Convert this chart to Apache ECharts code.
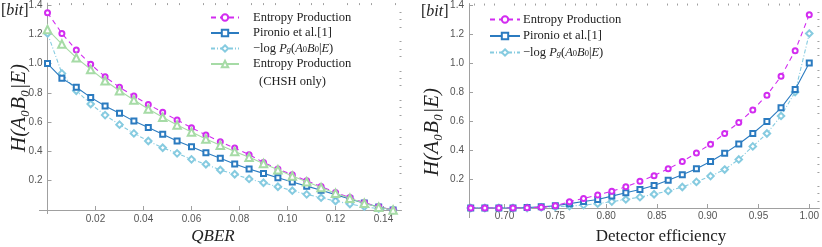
<!DOCTYPE html>
<html><head><meta charset="utf-8">
<script src="https://cdn.jsdelivr.net/npm/echarts@6/dist/echarts.min.js"></script>
<style>html,body{margin:0;padding:0;background:#fff}#c{width:822px;height:247px}</style>
</head><body><div id="c"></div>
<script>
// ---- data: left panel (QBER) ----
const qber = [0, 0.006, 0.012, 0.018, 0.024, 0.030, 0.036, 0.042, 0.048, 0.054, 0.060, 0.066, 0.072, 0.078, 0.084, 0.090, 0.096, 0.102, 0.108, 0.114, 0.120, 0.126, 0.132, 0.138, 0.144];
const entropyQ = [1.347, 1.206, 1.092, 0.995, 0.910, 0.838, 0.778, 0.721, 0.667, 0.614, 0.562, 0.513, 0.466, 0.423, 0.378, 0.325, 0.280, 0.240, 0.200, 0.160, 0.120, 0.085, 0.050, 0.022, 0];
const pironioQ = [1.000, 0.899, 0.838, 0.769, 0.710, 0.660, 0.607, 0.564, 0.517, 0.471, 0.432, 0.391, 0.353, 0.314, 0.280, 0.250, 0.220, 0.191, 0.163, 0.135, 0.105, 0.075, 0.047, 0.021, 0];
const pgQ = [1.206, 0.933, 0.814, 0.724, 0.648, 0.583, 0.523, 0.471, 0.425, 0.387, 0.346, 0.312, 0.273, 0.244, 0.212, 0.186, 0.159, 0.132, 0.107, 0.084, 0.061, 0.041, 0.023, 0.009, 0];
const chshQ = [1.233, 1.133, 1.040, 0.960, 0.883, 0.814, 0.751, 0.690, 0.633, 0.580, 0.533, 0.485, 0.443, 0.400, 0.360, 0.318, 0.275, 0.232, 0.193, 0.153, 0.115, 0.080, 0.046, 0.019, 0];
// ---- data: right panel (detector efficiency) ----
const eff = [0.6667, 0.6806, 0.6944, 0.7083, 0.7222, 0.7361, 0.7500, 0.7639, 0.7778, 0.7917, 0.8056, 0.8194, 0.8333, 0.8472, 0.8611, 0.8750, 0.8889, 0.9028, 0.9167, 0.9306, 0.9444, 0.9583, 0.9722, 0.9861, 1.0000];
const entropyE = [0, 0, 0, 0, 0.002, 0.005, 0.015, 0.043, 0.066, 0.089, 0.116, 0.146, 0.184, 0.223, 0.270, 0.320, 0.380, 0.440, 0.514, 0.589, 0.676, 0.778, 0.908, 1.085, 1.333];
const pironioE = [0, 0, 0, 0, 0.003, 0.008, 0.015, 0.030, 0.045, 0.059, 0.082, 0.105, 0.128, 0.155, 0.191, 0.230, 0.271, 0.321, 0.377, 0.441, 0.514, 0.596, 0.691, 0.817, 1.000];
const pgE = [0, 0, 0, 0, 0, 0.004, 0.008, 0.013, 0.020, 0.030, 0.044, 0.059, 0.075, 0.095, 0.118, 0.145, 0.180, 0.220, 0.265, 0.335, 0.425, 0.514, 0.635, 0.800, 1.203];
// ---- tick labels ----
const qberLabels = [0.02, 0.04, 0.06, 0.08, 0.10, 0.12, 0.14];
const qberMinor = [0.005, 0.010, 0.015, 0.025, 0.030, 0.035, 0.045, 0.050, 0.055, 0.065, 0.070, 0.075, 0.085, 0.090, 0.095, 0.105, 0.110, 0.115, 0.125, 0.130, 0.135, 0.145];
const effLabels = [0.70, 0.75, 0.80, 0.85, 0.90, 0.95, 1.00];
const effMinor = [0.67, 0.68, 0.69, 0.71, 0.72, 0.73, 0.74, 0.76, 0.77, 0.78, 0.79, 0.81, 0.82, 0.83, 0.84, 0.86, 0.87, 0.88, 0.89, 0.91, 0.92, 0.93, 0.94, 0.96, 0.97, 0.98, 0.99];
const hLabels = [0.2, 0.4, 0.6, 0.8, 1.0, 1.2, 1.4];
const hMinor = [0.05, 0.10, 0.15, 0.25, 0.30, 0.35, 0.45, 0.50, 0.55, 0.65, 0.70, 0.75, 0.85, 0.90, 0.95, 1.05, 1.10, 1.15, 1.25, 1.30, 1.35];

const NAME_EP = 'Entropy Production', NAME_PI = 'Pironio et al.[1]', NAME_PG = 'pg', NAME_CH = 'Entropy Production (CHSH only)';
const C_EP = '#d22cf0', C_PI = '#2b7bc0', C_PG = '#86cbe0', C_CH = '#a6dba6';
const SERIF = '"Liberation Serif","DejaVu Serif",serif';
const SANS = '"Liberation Sans","DejaVu Sans",sans-serif';
const AX = '#a0a0a0';

const pair = (xs, ys) => xs.map((x, i) => [x, ys[i]]);

function xAxes(gridIndex, min, max, labels, minor, margin) {
  const base = {type: 'value', gridIndex, min, max, splitLine: {show: false},
    axisLine: {onZero: false, lineStyle: {color: AX, width: 1}}};
  return [
    Object.assign({}, base, {
      axisTick: {inside: true, length: 4, customValues: labels, lineStyle: {color: AX}},
      axisLabel: {customValues: labels, color: '#555', fontFamily: SANS, fontSize: 10, margin,
        formatter: v => v.toFixed(2)}
    }),
    Object.assign({}, base, {
      axisLine: {show: false, onZero: false},
      axisTick: {inside: true, length: 2, customValues: minor, lineStyle: {color: AX}},
      axisLabel: {show: false}
    })
  ];
}
function yAxes(gridIndex, min, max) {
  const base = {type: 'value', gridIndex, min, max, splitLine: {show: false},
    axisLine: {onZero: false, lineStyle: {color: AX, width: 1}}};
  return [
    Object.assign({}, base, {
      axisTick: {inside: true, length: 4, customValues: hLabels, lineStyle: {color: AX}},
      axisLabel: {customValues: hLabels, color: '#555', fontFamily: SANS, fontSize: 10, margin: 5,
        formatter: v => v.toFixed(1)}
    }),
    Object.assign({}, base, {
      axisLine: {show: false, onZero: false},
      axisTick: {inside: true, length: 2, customValues: hMinor, lineStyle: {color: AX}},
      axisLabel: {show: false}
    })
  ];
}

function ser(name, color, symbol, size, dash, data, xi, yi, z) {
  return {type: 'line', name, data, xAxisIndex: xi, yAxisIndex: yi, z,
    symbol, symbolSize: size, showAllSymbol: true,
    lineStyle: {color, width: 1.1, type: dash},
    itemStyle: {color, borderColor: color, borderWidth: 1.3},
    emphasis: {disabled: true}, animation: false};
}

const FS = 12.5, LH = 12.5;
const rich = {
  it: {fontStyle: 'italic', fontFamily: SERIF, fontSize: FS, color: '#222', lineHeight: LH},
  sub: {fontStyle: 'italic', fontFamily: SERIF, fontSize: 8.5, color: '#222', verticalAlign: 'bottom', lineHeight: LH},
  s0: {fontFamily: SERIF, fontSize: 8.5, color: '#222', verticalAlign: 'bottom', lineHeight: LH}
};
function legendFmt(name) {
  if (name === NAME_PG) return '\u2212log {it|P}{sub|g}({it|A}{s0|0}{it|B}{s0|0}|{it|E})';
  if (name === NAME_CH) return 'Entropy Production';
  return name;
}
const legendText = {fontFamily: SERIF, fontSize: FS, color: '#222', lineHeight: LH, rich};

const axLine = (x1, y1, x2, y2) => ({type: 'line', silent: true,
  shape: {x1, y1, x2, y2}, style: {stroke: AX, lineWidth: 1}});

const option = {
  animation: false,
  backgroundColor: '#fff',
  grid: [
    {left: 47.5, top: 3, width: 354, height: 207},
    {left: 469, top: 1.4, width: 350.8, height: 206.6}
  ],
  xAxis: [].concat(
    xAxes(0, 0, 0.1475, qberLabels, qberMinor, 4),
    xAxes(1, 0.665, 1.01, effLabels, effMinor, 3)
  ),
  yAxis: [].concat(yAxes(0, 0, 1.413), yAxes(1, 0, 1.41)),
  legend: [
    {orient: 'vertical', left: 205, top: 6, itemWidth: 28, itemHeight: 8, itemGap: 2.5,
      data: [NAME_EP, NAME_PI, NAME_PG, NAME_CH], formatter: legendFmt,
      textStyle: Object.assign({padding: [0, 0, 0, 9]}, legendText), selectedMode: false},
    {orient: 'vertical', left: 484, top: 8, itemWidth: 30, itemHeight: 8, itemGap: 3.5,
      data: [NAME_EP, NAME_PI, NAME_PG], formatter: legendFmt,
      textStyle: Object.assign({padding: [0, 0, 0, -2]}, legendText), selectedMode: false}
  ],
  series: [
    ser(NAME_EP, C_EP, 'emptyCircle', 5, [5, 4], pair(qber, entropyQ), 0, 0, 4),
    ser(NAME_PI, C_PI, 'emptyRect', 5, 'solid', pair(qber, pironioQ), 0, 0, 3),
    ser(NAME_PG, C_PG, 'emptyDiamond', 6.5, [4, 2, 1, 2], pair(qber, pgQ), 0, 0, 2),
    ser(NAME_CH, C_CH, 'emptyTriangle', 7.5, 'solid', pair(qber, chshQ), 0, 0, 5),
    ser(NAME_EP, C_EP, 'emptyCircle', 5, [5, 4], pair(eff, entropyE), 2, 2, 4),
    ser(NAME_PI, C_PI, 'emptyRect', 5, 'solid', pair(eff, pironioE), 2, 2, 3),
    ser(NAME_PG, C_PG, 'emptyDiamond', 6.5, [4, 2, 1, 2], pair(eff, pgE), 2, 2, 2)
  ],
  graphic: [
    axLine(39, 210.5, 47.5, 210.5), axLine(47.5, 210, 47.5, 214),
    axLine(469.5, 208, 469.5, 218),
    {type: 'text', x: 1, y: 3, style: {text: '[{i|bit}]', fontFamily: SERIF, fontSize: 16, fill: '#222',
      rich: {i: {fontStyle: 'italic', fontFamily: SERIF, fontSize: 16, fill: '#222'}}}},
    {type: 'text', x: 421, y: 4, style: {text: '[{i|bit}]', fontFamily: SERIF, fontSize: 16, fill: '#222',
      rich: {i: {fontStyle: 'italic', fontFamily: SERIF, fontSize: 16, fill: '#222'}}}},
    {type: 'text', x: 19, y: 108, rotation: Math.PI / 2,
      style: {text: 'H(A\u2080B\u2080|E)', fontFamily: SERIF, fontStyle: 'italic', fontSize: 21, fill: '#222', align: 'center', verticalAlign: 'middle'}},
    {type: 'text', x: 432, y: 132, rotation: Math.PI / 2,
      style: {text: 'H(A\u2080B\u2080|E)', fontFamily: SERIF, fontStyle: 'italic', fontSize: 21, fill: '#222', align: 'center', verticalAlign: 'middle'}},
    {type: 'text', x: 213, y: 237, style: {text: 'QBER', fontFamily: SERIF, fontStyle: 'italic', fontSize: 17, fill: '#222', align: 'center', verticalAlign: 'middle'}},
    {type: 'text', x: 661, y: 237, style: {text: 'Detector efficiency', fontFamily: SERIF, fontSize: 17, fill: '#222', align: 'center', verticalAlign: 'middle'}},
    {type: 'text', x: 259, y: 82, style: {text: '(CHSH only)', fontFamily: SERIF, fontSize: 12.5, fill: '#222', align: 'left', verticalAlign: 'middle'}}
  ]
};
const chart = echarts.init(document.getElementById('c'), null, {renderer: 'canvas'});
chart.setOption(option);
</script></body></html>
